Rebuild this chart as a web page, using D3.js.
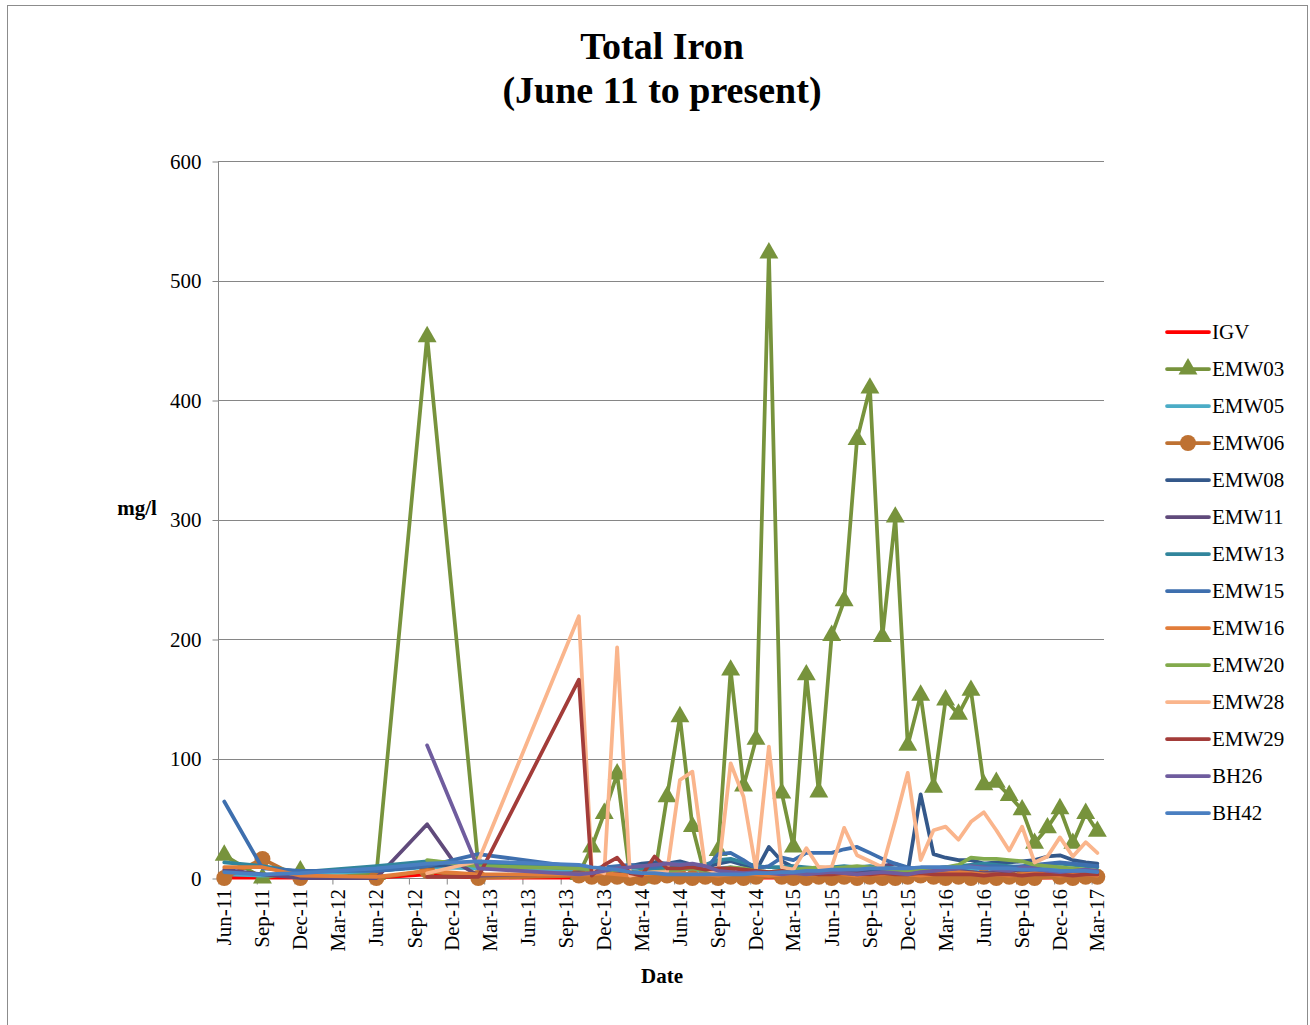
<html lang="en">
<head>
  <meta charset="UTF-8"/>
  <title>Total Iron</title>
  <script src="https://d3js.org/d3.v7.min.js"></script>
  <style>
  body {
    margin: 0;
    background: #fff;
  }

  svg {
    display: block;
    font-family: "Liberation Serif", "Times New Roman", serif;
  }

  .grid line {
    stroke: #868686;
    stroke-width: 1px;
  }

  .axis path,
  .axis line {
    stroke: #868686;
    stroke-width: 1px;
  }

  .axis text,
  .xlabels text,
  .legend text {
    font-family: "Liberation Serif", "Times New Roman", serif;
    font-size: 21px;
    fill: #000;
  }

  .title {
    font-size: 38px;
    font-weight: bold;
  }

  .axis-title {
    font-size: 21px;
    font-weight: bold;
  }

  .series .line {
    fill: none;
    stroke-width: 3.75px;
    stroke-linejoin: round;
    stroke-linecap: round;
  }
  </style>
</head>
<body>
<script>
  // sample dates (early sparse sampling, then monthly from Oct 2013)
  var dates = [
    "2011-06", "2011-09", "2011-12", "2012-06", "2012-10", "2012-12", "2013-02",
    "2013-10", "2013-11", "2013-12",
    "2014-01", "2014-02", "2014-03", "2014-04", "2014-05", "2014-06",
    "2014-07", "2014-08", "2014-09", "2014-10", "2014-11", "2014-12",
    "2015-01", "2015-02", "2015-03", "2015-04", "2015-05", "2015-06",
    "2015-07", "2015-08", "2015-09", "2015-10", "2015-11", "2015-12",
    "2016-01", "2016-02", "2016-03", "2016-04", "2016-05", "2016-06",
    "2016-07", "2016-08", "2016-09", "2016-10", "2016-11", "2016-12",
    "2017-01", "2017-02", "2017-03"
  ];

  var names = ["IGV", "EMW03", "EMW05", "EMW06", "EMW08", "EMW11", "EMW13",
               "EMW15", "EMW16", "EMW20", "EMW28", "EMW29", "BH26", "BH42"];

  var IGV = [0.3, 0.3, 0.3, 0.3, 3, null, 0.3,
    0.3, 0.3, 0.3, 0.3, 0.3, 0.3, 0.3, 0.3, 0.3, 0.3,
    0.3, 0.3, 0.3, 0.3, 0.3, 0.3, 0.3, 0.3, 0.3, 0.3,
    0.3, 0.3, 0.3, 0.3, 0.3, 0.3, 0.3, 0.3, 0.3, 0.3,
    0.3, 0.3, 0.3, 0.3, 0.3, 0.3, 0.3, 0.3, 0.3, 0.3,
    0.3, 0.3];
  var EMW03 = [19, 0, 6, 3, 453, null, 11,
    3, 26, 54, 87, 1, 0, 2, 68, 135, 43,
    1, 23, 174, 77, 116, 523, 71, 26, 170, 72,
    203, 232, 367, 410, 202, 302, 111, 153, 76, 149,
    137, 157, 78, 80, 69, 57, 29, 42, 58, 29,
    54, 39];
  var EMW05 = [3, 2, 3, 6, 9, null, 8,
    6, 5, 6, 7, 6, 5, 6, 7, 8, 7,
    6, 8, 9, 7, 6, 5, 6, 7, 8, 7,
    8, 9, 8, 7, 6, 5, 6, 7, 6, 5,
    6, 7, 8, 7, 6, 7, 8, 9, 8, 7,
    6, 5];
  var EMW06 = [0, 16, 0, 0, 6, null, 0,
    2, 1, 0, 1, 0, 0, 1, 2, 1, 0,
    1, 0, 1, 0, 1, null, 1, 0, 0, 1,
    0, 1, 0, 1, 0, 0, 1, 2, 1, 0,
    1, 0, 1, 0, 1, 0, 0, null, 1, 0,
    1, 1];
  var EMW08 = [null, null, null, 6, 10, null, 12,
    8, 8, 9, 8, 10, 12, 13, 12, 14, 11,
    9, 12, 14, 11, 6, 26, 14, 9, 8, 6,
    5, 6, 5, 6, 5, 4, 5, 70, 20, 17,
    15, 15, 12, 13, 13, 14, 15, 18, 19, 15,
    13, 12];
  var EMW11 = [7, 3, 0, 0, 45, 15, 2,
    4, 3, 5, 6, 5, 4, 6, 8, 10, 9,
    8, 5, 4, 5, 4, 3, 4, 5, 4, 3,
    4, 5, 6, 8, 10, 12, 8, 5, 4, 5,
    6, 5, 4, 5, 6, 7, 6, 5, 4, 5,
    6, 5];
  var EMW13 = [13, 10, 5, 10, 14, null, 12,
    8, 8, 7, 8, 9, 8, 8, 9, 10, 10,
    11, 15, 16, 13, 10, 9, 9, 10, 9, 8,
    9, 10, 9, 10, 9, 8, 7, 6, 8, 9,
    10, 11, 12, 11, 10, 9, 10, 11, 12, 11,
    10, 9];
  var EMW15 = [64, 8, 6, 6, 10, null, 20,
    9, 8, 9, 10, 11, 10, 9, 12, 12, 10,
    7, 20, 21, 15, 8, 10, 17, 15, 21, 21,
    21, 24, 26, 21, 16, 12, 9, 7, 8, 9,
    8, 9, 10, 10, 9, 10, 11, 12, 13, 12,
    11, 10];
  var EMW16 = [9, 9, 2, 1, 6, null, 3,
    3, 3, 4, 3, 2, 3, 4, 5, 4, 3,
    3, 2, 3, 4, 3, 2, 3, 4, 3, 3,
    4, 3, 2, 3, 3, 4, 3, 2, 3, 4,
    5, 4, 3, 3, 2, 3, 4, 3, 2, 3,
    3, 2];
  var EMW20 = [null, null, null, null, 15, null, 10,
    8, 7, 6, 7, 5, 4, 5, 6, 7, 8,
    6, 7, 9, 8, 6, 5, 6, 7, 8, 9,
    8, 9, 10, 9, 8, 7, 6, 7, 8, 9,
    11, 17, 16, 16, 15, 14, 11, 10, 9, 8,
    7, 6];
  var EMW28 = [null, null, null, null, 4, null, 14,
    219, 8, 4, 193, 2, 4, 5, 5, 82, 89,
    8, 4, 96, 68, 7, 110, 9, 7, 25, 9,
    9, 42, 19, 14, 9, 48, 88, 15, 40, 43,
    32, 47, 55, 40, 23, 43, 13, 18, 34, 18,
    30, 21];
  var EMW29 = [null, null, null, null, 1, null, 1,
    166, 2, 11, 17, 4, 2, 18, 8, 8, 9,
    7, 8, 8, 7, 6, 5, 6, 4, 4, 3,
    3, 4, 3, 3, 4, 3, 3, 4, 3, 3,
    3, 3, 2, 3, 3, 2, 3, 3, 3, 2,
    3, 3];
  var BH26 = [null, null, null, null, 111, null, 8,
    3, 4, 6, 8, 9, 10, 11, 12, 11, 12,
    10, 6, 5, 4, 5, 4, 3, 4, 3, 4,
    5, 4, 3, 4, 5, 4, 3, 5, 6, 7,
    8, 10, 9, 7, 6, 9, 8, 6, 5, 6,
    7, 6];
  var BH42 = [5, 3, 4, 8, 12, null, 14,
    11, 9, 8, 7, 5, 4, 4, 3, 3, 3,
    3, 3, 3, 3, 4, 4, 5, 5, 6, 6,
    7, 7, 7, 8, 8, 8, 8, 9, 9, 9,
    9, 9, 8, 8, 8, 7, 7, 7, 6, 6,
    6, 5];

  var yTicks = [0, 100, 200, 300, 400, 500, 600];

  var values = [IGV, EMW03, EMW05, EMW06, EMW08, EMW11, EMW13,
                EMW15, EMW16, EMW20, EMW28, EMW29, BH26, BH42];

  var colors = {
    IGV: "#FF0000", EMW03: "#77933C", EMW05: "#4BACC6", EMW06: "#BE7132",
    EMW08: "#34588A", EMW11: "#604A7B", EMW13: "#31859C", EMW15: "#3E6FAE",
    EMW16: "#E27D3A", EMW20: "#82AA4C", EMW28: "#FAB58C", EMW29: "#A33C39",
    BH26: "#6F5C9E", BH42: "#4A7FC1"
  };
  var markers = { EMW03: d3.symbolTriangle, EMW06: d3.symbolCircle };
  var markerSize = { EMW03: 155, EMW06: 200 };

  var W = 1310, H = 1025;
  var plot = {left: 218, right: 1104, top: 161, bottom: 878};

  var parse = d3.timeParse("%Y-%m");
  // each sample sits in the middle of its month
  var when = dates.map(function(s) { return d3.timeDay.offset(parse(s), 15); });

  var series = names.map(function(n, i) {
    return {
      name: n,
      points: values[i].map(function(v, j) { return {date: when[j], value: v}; })
        .filter(function(p) { return p.value != null; })
    };
  });

  var x = d3.scaleTime()
    .domain([new Date(2011, 5, 1), new Date(2017, 3, 1)])
    .range([plot.left, plot.right]);
  var y = d3.scaleLinear().domain([0, 600]).range([plot.bottom, plot.top]);

  var svg = d3.select("body").append("svg")
    .attr("width", W)
    .attr("height", H);

  svg.append("rect")
    .attr("x", 7.5).attr("y", 5.5)
    .attr("width", 1300).attr("height", 1040)
    .attr("fill", "#fff")
    .attr("stroke", "#8c8c8c");

  // titles
  svg.append("text").attr("class", "title")
    .attr("x", 662).attr("y", 59).attr("text-anchor", "middle")
    .text("Total Iron");
  svg.append("text").attr("class", "title")
    .attr("x", 662).attr("y", 103).attr("text-anchor", "middle")
    .text("(June 11 to present)");

  // gridlines
  svg.append("g").attr("class", "grid")
    .selectAll("line")
    .data(yTicks.slice(1))
    .enter().append("line")
    .attr("x1", plot.left).attr("x2", plot.right)
    .attr("y1", function(d) { return Math.round(y(d)) + 0.5; })
    .attr("y2", function(d) { return Math.round(y(d)) + 0.5; });

  // y axis
  var yAxis = d3.axisLeft(y).tickValues(yTicks).tickSize(6).tickPadding(11);
  svg.append("g").attr("class", "axis")
    .attr("transform", "translate(" + (plot.left + 0.5) + ",0.5)")
    .call(yAxis)
    .attr("font-family", null)
    .attr("font-size", null)
    .call(function(g) { g.select(".domain").attr("d", "M0," + plot.top + "V" + plot.bottom); });

  // x axis: quarterly ticks, labels centred on the month
  var quarters = d3.timeMonth.range(new Date(2011, 5, 1), new Date(2017, 3, 2), 3);
  var xAxis = d3.axisBottom(x).tickValues(quarters).tickSize(6).tickFormat("");
  svg.append("g").attr("class", "axis")
    .attr("transform", "translate(0.5," + (plot.bottom + 0.5) + ")")
    .call(xAxis)
    .call(function(g) { g.select(".domain").attr("d", "M" + plot.left + ",0H" + plot.right); });

  var fmt = d3.timeFormat("%b-%y");
  svg.append("g").attr("class", "xlabels")
    .selectAll("text")
    .data(quarters)
    .enter().append("text")
    .attr("transform", function(d) {
      return "translate(" + x(d3.timeDay.offset(d, 15)) + "," + (plot.bottom + 11) + ") rotate(-90)";
    })
    .attr("text-anchor", "end")
    .attr("dy", "0.33em")
    .text(function(d) { return fmt(d); });

  svg.append("text").attr("class", "axis-title")
    .attr("x", 662).attr("y", 983).attr("text-anchor", "middle")
    .text("Date");
  svg.append("text").attr("class", "axis-title")
    .attr("x", 137).attr("y", 515).attr("text-anchor", "middle")
    .text("mg/l");

  // series
  var line = d3.line()
    .x(function(d) { return x(d.date); })
    .y(function(d) { return y(d.value); });

  var g = svg.append("g").attr("class", "series")
    .selectAll("g")
    .data(series)
    .enter().append("g");

  g.append("path")
    .attr("class", "line")
    .attr("d", function(d) { return line(d.points); })
    .attr("stroke", function(d) { return colors[d.name]; });

  g.filter(function(d) { return markers[d.name]; })
    .selectAll(".mark")
    .data(function(d) { return d.points.map(function(p) { return {name: d.name, p: p}; }); })
    .enter().append("path")
    .attr("class", "mark")
    .attr("d", function(d) { return d3.symbol(markers[d.name], markerSize[d.name])(); })
    .attr("transform", function(d) { return "translate(" + x(d.p.date) + "," + y(d.p.value) + ")"; })
    .attr("fill", function(d) { return colors[d.name]; });

  // legend
  var legend = svg.append("g").attr("class", "legend")
    .selectAll("g")
    .data(names)
    .enter().append("g")
    .attr("transform", function(d, i) { return "translate(1165," + (332 + i * 37) + ")"; });

  legend.append("line")
    .attr("x1", 2).attr("x2", 44)
    .attr("stroke", function(d) { return colors[d]; })
    .attr("stroke-width", 3.75)
    .attr("stroke-linecap", "round");

  legend.filter(function(d) { return markers[d]; })
    .append("path")
    .attr("d", function(d) { return d3.symbol(markers[d], markerSize[d])(); })
    .attr("transform", "translate(23,0)")
    .attr("fill", function(d) { return colors[d]; });

  legend.append("text")
    .attr("x", 47)
    .attr("dy", "0.35em")
    .text(function(d) { return d; });
</script>
</body>
</html>
